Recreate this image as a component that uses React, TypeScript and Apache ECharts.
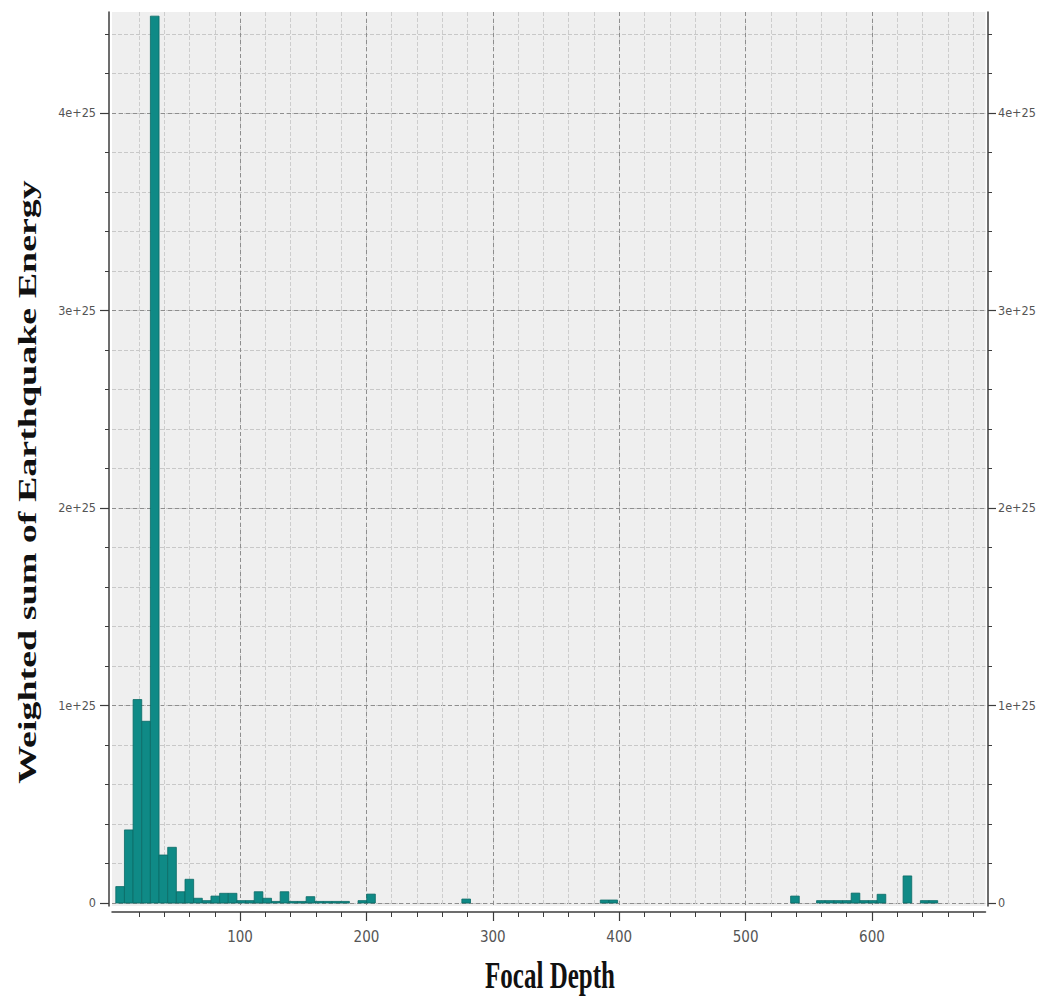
import React, { useEffect, useRef } from "react";
import * as echarts from "echarts";

// ---- data ----
const BIN_ORIGIN = 1.7; // left edge of first depth bin
const BIN_WIDTH = 6.845; // depth bin width
// weighted energy sum per depth bin (bin index 0..94)
const energy = [
  0.083e25, 0.37e25, 1.03e25, 0.92e25, 4.49e25, 0.243e25, 0.282e25, 0.057e25, 0.12e25, 0.024e25,
  0.012e25, 0.035e25, 0.049e25, 0.049e25, 0.012e25, 0.012e25, 0.057e25, 0.024e25, 0.008e25, 0.057e25,
  0.008e25, 0.008e25, 0.032e25, 0.008e25, 0.008e25, 0.008e25, 0.008e25, 0, 0.012e25, 0.045e25,
  0, 0, 0, 0, 0, 0, 0, 0, 0, 0,
  0.02e25, 0, 0, 0, 0, 0, 0, 0, 0, 0,
  0, 0, 0, 0, 0, 0, 0.015e25, 0.015e25, 0, 0,
  0, 0, 0, 0, 0, 0, 0, 0, 0, 0,
  0, 0, 0, 0, 0, 0, 0, 0, 0.035e25, 0,
  0, 0.012e25, 0.012e25, 0.012e25, 0.012e25, 0.05e25, 0.012e25, 0.012e25, 0.044e25, 0,
  0, 0.137e25, 0, 0.012e25, 0.012e25,
];
const xLabelValues = [100, 200, 300, 400, 500, 600];
const xMinorTicks = [
  20, 40, 60, 80, 100, 120, 140, 160, 180, 200, 220, 240, 260, 280, 300, 320, 340,
  360, 380, 400, 420, 440, 460, 480, 500, 520, 540, 560, 580, 600, 620, 640, 660, 680,
];
const yLabelValues = [0, 1e25, 2e25, 3e25, 4e25];
const yMinorTicks = [
  0, 0.2e25, 0.4e25, 0.6e25, 0.8e25, 1e25, 1.2e25, 1.4e25, 1.6e25, 1.8e25, 2e25, 2.2e25,
  2.4e25, 2.6e25, 2.8e25, 3e25, 3.2e25, 3.4e25, 3.6e25, 3.8e25, 4e25, 4.2e25, 4.4e25,
];
const xTitle = "Focal Depth";
const yTitle = "Weighted sum of Earthquake Energy";

const X_MIN = -1.3;
const X_MAX = 689.8;
const Y_MIN = -0.0152e25;
const Y_MAX = 4.511e25;

const AXIS_COLOR = "#3c3c3c";
const LABEL_FONT = "'Liberation Sans Narrow', 'DejaVu Sans Condensed', 'Liberation Sans', sans-serif";

export default function App() {
  const ref = useRef<HTMLDivElement>(null);
  useEffect(() => {
    if (!ref.current) return;
    const chart = echarts.init(ref.current, undefined, { renderer: "svg" });

    const bars: number[][] = [];
    energy.forEach((v, i) => {
      if (v > 0) {
        const x0 = BIN_ORIGIN + i * BIN_WIDTH;
        bars.push([x0, x0 + BIN_WIDTH, v]);
      }
    });

    const xLabelStyle = { color: "#555", fontFamily: LABEL_FONT, fontSize: 15 };
    const yLabelStyle = { color: "#555", fontFamily: LABEL_FONT, fontSize: 12.5 };
    const yFmt = (v: number) => (Math.abs(v) < 1e20 ? "0" : `${Math.round(v / 1e24) / 10}e+25`);

    const xCommon = { type: "value", min: X_MIN, max: X_MAX, position: "bottom", offset: 6 } as any;
    const yCommon = { type: "value", min: Y_MIN, max: Y_MAX } as any;

    chart.setOption({
      animation: false,
      grid: {
        left: 112,
        top: 12,
        width: 873.5,
        height: 894,
        show: true,
        backgroundColor: "#efefef",
        borderWidth: 0,
        containLabel: false,
        outerBoundsMode: "none",
      },
      xAxis: [
        {
          ...xCommon,
          axisLine: { show: true, onZero: false, lineStyle: { color: AXIS_COLOR, width: 1.5 } },
          axisTick: { show: true, length: 5, customValues: xMinorTicks, lineStyle: { color: AXIS_COLOR } },
          axisLabel: { show: false },
          splitLine: { show: true, lineStyle: { color: "#cdcdcd", width: 1, type: [4, 2] } },
        },
        {
          ...xCommon,
          axisLine: { show: false, onZero: false },
          axisTick: { show: true, length: 9, customValues: xLabelValues, lineStyle: { color: AXIS_COLOR, width: 1.2 } },
          axisLabel: { show: true, customValues: xLabelValues, margin: 17, ...xLabelStyle },
          splitLine: { show: true, lineStyle: { color: "#8e8e8e", width: 1, type: [4, 3] } },
        },
      ],
      yAxis: [
        {
          ...yCommon,
          position: "left",
          offset: 3,
          axisLine: { show: true, onZero: false, lineStyle: { color: AXIS_COLOR, width: 1.5 } },
          axisTick: { show: true, length: 4, customValues: yMinorTicks, lineStyle: { color: AXIS_COLOR } },
          axisLabel: { show: false },
          splitLine: { show: true, lineStyle: { color: "#c8c8c8", width: 1, type: [4, 2] } },
        },
        {
          ...yCommon,
          position: "left",
          offset: 3,
          axisLine: { show: false, onZero: false },
          axisTick: { show: true, length: 9, customValues: yLabelValues, lineStyle: { color: AXIS_COLOR, width: 1.2 } },
          axisLabel: { show: true, customValues: yLabelValues, margin: 13, formatter: yFmt, ...yLabelStyle },
          splitLine: { show: true, lineStyle: { color: "#8e8e8e", width: 1, type: [4, 3] } },
        },
        {
          ...yCommon,
          position: "right",
          offset: 2.5,
          axisLine: { show: true, onZero: false, lineStyle: { color: AXIS_COLOR, width: 1.5 } },
          axisTick: { show: true, length: 4, customValues: yMinorTicks, lineStyle: { color: AXIS_COLOR } },
          axisLabel: { show: false },
          splitLine: { show: false },
        },
        {
          ...yCommon,
          position: "right",
          offset: 2.5,
          axisLine: { show: false, onZero: false },
          axisTick: { show: true, length: 8, customValues: yLabelValues, lineStyle: { color: AXIS_COLOR, width: 1.2 } },
          axisLabel: { show: true, customValues: yLabelValues, margin: 10, formatter: yFmt, ...yLabelStyle },
          splitLine: { show: false },
        },
      ],
      series: [
        {
          type: "custom",
          xAxisIndex: 1,
          yAxisIndex: 1,
          encode: { x: [0, 1], y: 2 },
          data: bars,
          renderItem: (params: any, api: any) => {
            const p0 = api.coord([api.value(0), api.value(2)]);
            const p1 = api.coord([api.value(1), 0]);
            return {
              type: "rect",
              shape: { x: p0[0], y: p0[1], width: p1[0] - p0[0], height: p1[1] - p0[1] },
              style: { fill: "#0f8a86", stroke: "#0a6a66", lineWidth: 0.8 },
            };
          },
        },
      ],
      graphic: [
        {
          type: "text",
          x: 550,
          y: 976,
          scaleY: 1.5,
          style: {
            text: xTitle,
            font: "bold 25px 'Liberation Serif', 'DejaVu Serif', serif",
            fill: "#111",
            align: "center",
            verticalAlign: "middle",
            textAlign: "center",
            textVerticalAlign: "middle",
          },
        },
        {
          type: "text",
          x: 27,
          y: 482,
          rotation: Math.PI / 2,
          scaleX: 1.52,
          style: {
            text: yTitle,
            font: "bold 25px 'Liberation Serif', 'DejaVu Serif', serif",
            fill: "#111",
            align: "center",
            verticalAlign: "middle",
            textAlign: "center",
            textVerticalAlign: "middle",
          },
        },
      ],
    });
    return () => chart.dispose();
  }, []);
  return (
    <div
      ref={ref}
      style={{ position: "fixed", left: 0, top: 0, width: 1040, height: 1004, background: "#fff" }}
    />
  );
}
